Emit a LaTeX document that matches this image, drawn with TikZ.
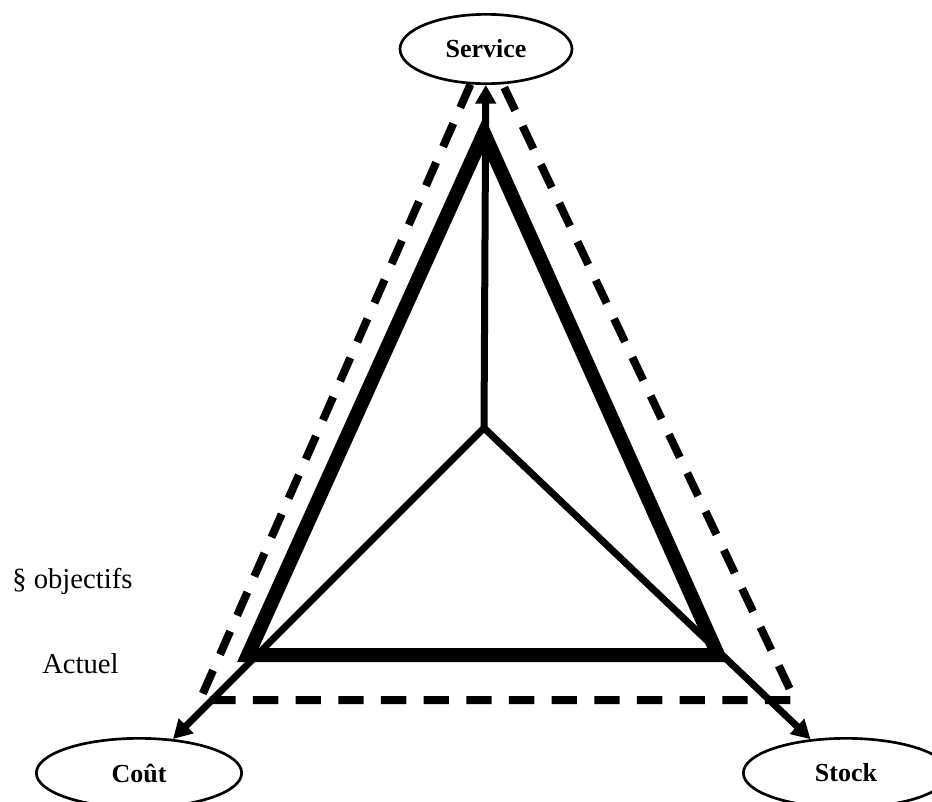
\documentclass[tikz,border=0pt]{standalone}
\usepackage{fontspec}
\setmainfont{Liberation Serif}
\usetikzlibrary{arrows.meta,shapes.geometric}
\begin{document}
\begin{tikzpicture}[x=0.75pt,y=-0.75pt,
  pole/.style={draw,ellipse,line width=2pt,inner sep=0pt,minimum height=52pt,font=\bfseries\fontsize{19.5}{22}\selectfont},
  link/.style={line width=5.25pt,-{Triangle[length=14pt,width=15pt]}},
  actline/.style={line width=10.5pt,line join=miter},
  objline/.style={line width=6pt,dash pattern=on 19pt off 13pt},
  lbl/.style={anchor=base west,inner sep=0pt,font=\fontsize{21.5}{24}\selectfont}]
\useasboundingbox (0,0) rectangle (932,801);
\node[pole,minimum width=129pt] (service) at (486,49) {Service};
\node[pole,minimum width=154pt] (cout) at (139,773) {Coût};
\node[pole,minimum width=154pt] (stock) at (846,773) {Stock};
\coordinate (hub) at (484,428);
\coordinate (objL) at (200,700);
\coordinate (objR) at (795,700);
\coordinate (actT) at (484,133);
\coordinate (actL) at (248,655);
\coordinate (actR) at (718,655);
\draw[objline] (service) -- (objL) -- (objR) -- (service);
\draw[actline] (actT) -- (actL) -- (actR) -- cycle;
\draw[link] (hub) -- (service);
\draw[link] (hub) -- (cout);
\draw[link] (hub) -- (stock);
\node[lbl] (objectifs) at (12,588) {§ objectifs};
\node[lbl] (actuel) at (42,673) {Actuel};
\end{tikzpicture}
\end{document}
